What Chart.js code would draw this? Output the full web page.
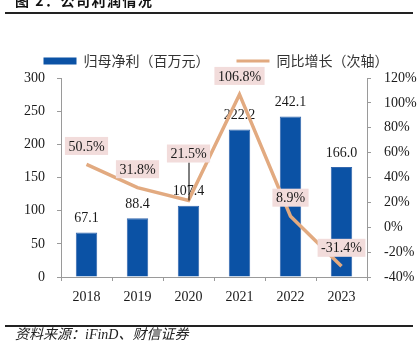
<!DOCTYPE html>
<html>
<head>
<meta charset="utf-8">
<script src="https://cdn.jsdelivr.net/npm/chart.js@4.4.1/dist/chart.umd.min.js"></script>
<style>
  html, body { margin: 0; padding: 0; background: #fff; }
  #wrap { position: relative; width: 418px; height: 360px; overflow: hidden; }
  #chart { position: absolute; left: 0; top: 0; }
  .title {
    position: absolute; left: 15px; top: -7px;
    font: bold 14px "Noto Sans CJK SC", sans-serif; line-height: 14px;
    color: #111; letter-spacing: 1.5px;
  }
  .rule { position: absolute; left: 5px; width: 408px; height: 1.5px; background: #222; }
  .source {
    position: absolute; left: 15px; top: 327px;
    font: italic 14px "Liberation Serif", "Noto Sans CJK SC", serif; line-height: 15px;
    color: #222;
  }
</style>
</head>
<body>
<div id="wrap">
  <canvas id="chart" width="418" height="360"></canvas>
  <div class="title">图 2：公司利润情况</div>
  <div class="rule" style="top:12px"></div>
  <div class="rule" style="top:325px"></div>
  <div class="source">资料来源：iFinD、财信证券</div>
</div>
<script>
// ── Chart Data ─────────────────────────────────────────────
const years  = ['2018', '2019', '2020', '2021', '2022', '2023'];
const profit = [67.1, 88.4, 107.4, 222.2, 242.1, 166.0];   // 归母净利（百万元）
const growth = [50.5, 31.8, 21.5, 106.8, 8.9, -31.4];       // 同比增长（%）

const BLUE = '#0B52A5';
const TAN  = '#E2AA80';
const TEXT = '#1a1a1a';
const AXIS = '#9a9a9a';
const numFont = { family: '"Liberation Serif", "Times New Roman", serif', size: 14 };

// ── Value labels (bars plain, line in pink boxes) ──────────
const valueLabels = {
  id: 'valueLabels',
  afterDatasetDraw(chart, args) {
    const ctx = chart.ctx;
    const meta = args.meta;
    ctx.save();
    ctx.font = '14px "Liberation Serif", serif';
    ctx.textAlign = 'center';
    ctx.textBaseline = 'middle';
    if (meta.type === 'bar') {
      meta.data.forEach((el, i) => {
        ctx.fillStyle = TEXT;
        ctx.fillText(profit[i].toFixed(1), el.x, el.y - 14);
      });
    } else {
      meta.data.forEach((el, i) => {
        const text = growth[i].toFixed(1) + '%';
        const lift = i === 2 ? 47 : 18.5;
        const cy = el.y - lift;
        const w = ctx.measureText(text).width + 7;
        if (i === 2) {
          ctx.strokeStyle = '#000';
          ctx.lineWidth = 1;
          ctx.beginPath();
          ctx.moveTo(el.x + 0.5, cy + 9);
          ctx.lineTo(el.x + 0.5, el.y);
          ctx.stroke();
        }
        ctx.fillStyle = '#F2DCDB';
        ctx.fillRect(el.x - w / 2, cy - 9, w, 18);
        ctx.fillStyle = TEXT;
        ctx.fillText(text, el.x, cy + 1);
      });
    }
    ctx.restore();
  }
};

// ── Chart ──────────────────────────────────────────────────
new Chart(document.getElementById('chart'), {
  type: 'bar',
  data: {
    labels: years,
    datasets: [{
      type: 'bar',
      label: '归母净利（百万元）',
      data: profit,
      yAxisID: 'y',
      backgroundColor: BLUE,
      borderColor: '#3468AE',
      borderWidth: 1,
      barPercentage: 0.42,
      categoryPercentage: 1,
      order: 1,
    }, {
      type: 'line',
      label: '同比增长（次轴）',
      data: growth,
      yAxisID: 'y1',
      borderColor: TAN,
      backgroundColor: TAN,
      borderWidth: 3.5,
      pointRadius: 0,
      tension: 0,
      order: 0,
    }]
  },
  options: {
    responsive: false,
    animation: false,
    layout: { padding: { top: 27, left: 14, right: 0, bottom: 53 } },
    plugins: {
      tooltip: { enabled: false },
      legend: {
        position: 'top',
        labels: {
          color: '#333',
          font: { family: '"Noto Sans CJK SC", sans-serif', size: 14 },
          usePointStyle: true,
          pointStyleWidth: 33,
          boxHeight: 7,
          padding: 27,
          generateLabels(chart) {
            return chart.data.datasets.map((ds, i) => ({
              text: ds.label,
              datasetIndex: i,
              fillStyle: ds.backgroundColor,
              strokeStyle: ds.type === 'line' ? TAN : BLUE,
              lineWidth: ds.type === 'line' ? 3 : 0,
              pointStyle: ds.type === 'line' ? 'line' : 'rect',
              fontColor: '#333',
            }));
          }
        }
      }
    },
    scales: {
      x: {
        offset: true,
        grid: { display: true, drawOnChartArea: false, offset: true, color: AXIS, tickLength: 4 },
        border: { color: AXIS },
        ticks: { color: TEXT, font: numFont, padding: 8 },
        afterFit(s) { s.height = 30; }
      },
      y: {
        position: 'left',
        min: 0, max: 300,
        grid: { drawOnChartArea: false, color: AXIS, tickLength: 4 },
        border: { color: AXIS },
        ticks: { stepSize: 50, color: TEXT, font: numFont, padding: 12 },
        afterFit(s) { s.width = 47; }
      },
      y1: {
        position: 'right',
        min: -40, max: 120,
        grid: { drawOnChartArea: false, color: AXIS, tickLength: 4 },
        border: { color: AXIS },
        ticks: { stepSize: 20, color: TEXT, font: numFont, padding: 13, callback: v => v + '%' },
        afterFit(s) { s.width = 51; }
      }
    }
  },
  plugins: [valueLabels]
});
</script>
</body>
</html>
